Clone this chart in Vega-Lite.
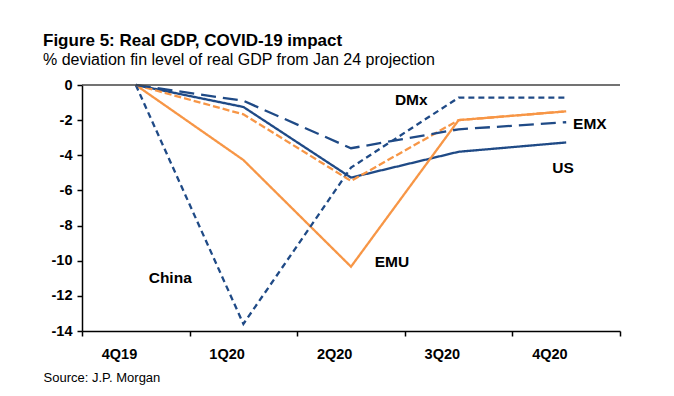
{
  "$schema": "https://vega.github.io/schema/vega-lite/v6.json",
  "width": 538,
  "height": 246,
  "autosize": {"type": "none"},
  "padding": {"left": 82, "top": 85, "right": 54, "bottom": 65},
  "background": "white",
  "config": {
    "view": {"stroke": null},
    "font": "Liberation Sans",
    "axis": {
      "labelOverlap": false,
      "labelFlush": false,
      "labelFont": "Liberation Sans",
      "labelFontSize": 14.5,
      "labelFontWeight": "bold",
      "labelColor": "black",
      "domainColor": "black",
      "domainWidth": 1.5,
      "tickColor": "black",
      "tickWidth": 1.5,
      "tickSize": 5,
      "grid": false
    },
    "axisY": {"labelOverlap": false, "labelPadding": 5, "labelFontWeight": "bold", "labelColor": "black", "labelFontSize": 14.5},
    "axisX": {"labelPadding": 11}
  },
  "title": {
    "text": "Figure 5: Real GDP, COVID-19 impact",
    "subtitle": "% deviation fin level of real GDP from Jan 24 projection",
    "anchor": "start",
    "frame": "group",
    "dx": -39,
    "offset": 8,
    "font": "Liberation Sans",
    "fontSize": 17,
    "fontWeight": "bold",
    "color": "black",
    "subtitleFont": "Liberation Sans",
    "subtitleFontSize": 16,
    "subtitleColor": "black",
    "subtitlePadding": 2
  },
  "datasets": {
    "series": [
      {"quarter": "4Q19", "t": 0, "series": "US", "value": 0},
      {"quarter": "1Q20", "t": 1, "series": "US", "value": -1.25},
      {"quarter": "2Q20", "t": 2, "series": "US", "value": -5.27},
      {"quarter": "3Q20", "t": 3, "series": "US", "value": -3.8},
      {"quarter": "4Q20", "t": 4, "series": "US", "value": -3.27},
      {"quarter": "4Q19", "t": 0, "series": "EMU", "value": 0},
      {"quarter": "1Q20", "t": 1, "series": "EMU", "value": -4.27},
      {"quarter": "2Q20", "t": 2, "series": "EMU", "value": -10.34},
      {"quarter": "3Q20", "t": 3, "series": "EMU", "value": -2.0},
      {"quarter": "4Q20", "t": 4, "series": "EMU", "value": -1.5},
      {"quarter": "4Q19", "t": 0, "series": "China", "value": 0},
      {"quarter": "1Q20", "t": 1, "series": "China", "value": -13.6},
      {"quarter": "2Q20", "t": 2, "series": "China", "value": -4.7},
      {"quarter": "3Q20", "t": 3, "series": "China", "value": -0.72},
      {"quarter": "4Q20", "t": 4, "series": "China", "value": -0.72},
      {"quarter": "4Q19", "t": 0, "series": "DMx", "value": 0},
      {"quarter": "1Q20", "t": 1, "series": "DMx", "value": -1.67},
      {"quarter": "2Q20", "t": 2, "series": "DMx", "value": -5.46},
      {"quarter": "3Q20", "t": 3, "series": "DMx", "value": -2.0},
      {"quarter": "4Q20", "t": 4, "series": "DMx", "value": -1.5},
      {"quarter": "4Q19", "t": 0, "series": "EMX", "value": 0},
      {"quarter": "1Q20", "t": 1, "series": "EMX", "value": -0.9},
      {"quarter": "2Q20", "t": 2, "series": "EMX", "value": -3.6},
      {"quarter": "3Q20", "t": 3, "series": "EMX", "value": -2.52},
      {"quarter": "4Q20", "t": 4, "series": "EMX", "value": -2.12}
    ],
    "labels": [
      {"label": "DMx", "t": 2.56, "value": -0.85},
      {"label": "EMX", "t": 4.22, "value": -2.2},
      {"label": "US", "t": 3.97, "value": -4.72},
      {"label": "EMU", "t": 2.38, "value": -10.1},
      {"label": "China", "t": 0.32, "value": -11.0}
    ],
    "zero": [{"value": 0}]
  },
  "layer": [
    {
      "data": {"name": "series"},
      "mark": {"type": "line", "strokeWidth": 2.3},
      "encoding": {
        "x": {
          "field": "t",
          "type": "quantitative",
          "scale": {"domain": [-0.5, 4.5], "nice": false, "zero": false},
          "axis": {
            "values": [-0.5, 0.5, 1.5, 2.5, 3.5, 4.5],
            "labelExpr": "['4Q19','1Q20','2Q20','3Q20','4Q20',''][round(datum.value + 0.5)]",
            "labelOffset": 37,
            "title": "Source: J.P. Morgan",
            "titleFont": "Liberation Sans",
            "titleFontSize": 13,
            "titleFontWeight": "normal",
            "titleColor": "black",
            "titleAnchor": "start",
            "titleAlign": "left",
            "titleX": -39,
            "titleY": 50,
            "titleBaseline": "alphabetic"
          }
        },
        "y": {
          "field": "value",
          "type": "quantitative",
          "scale": {"domain": [-14, 0], "nice": false},
          "axis": {
            "values": [-14, -12, -10, -8, -6, -4, -2, 0],
            "labelExpr": "datum.value == 0 ? '0' : '-' + abs(datum.value)",
            "labelOverlap": false,
            "labelFontWeight": "bold",
            "labelColor": "black",
            "labelFontSize": 14.5,
            "title": null
          }
        },
        "color": {
          "field": "series",
          "type": "nominal",
          "scale": {
            "domain": ["US", "EMU", "China", "DMx", "EMX"],
            "range": ["#1F4A86", "#F79646", "#1F4A86", "#F79646", "#1F4A86"]
          },
          "legend": null
        },
        "strokeDash": {
          "field": "series",
          "type": "nominal",
          "scale": {
            "domain": ["US", "EMU", "China", "DMx", "EMX"],
            "range": [[1, 0], [1, 0], [6, 4], [7, 3], [15, 7]]
          },
          "legend": null
        },
        "order": {"field": "t", "type": "quantitative"}
      }
    },
    {
      "data": {"name": "zero"},
      "mark": {"type": "rule", "color": "#444444", "strokeWidth": 1.5},
      "encoding": {
        "y": {
          "field": "value",
          "type": "quantitative",
          "axis": {
            "values": [-14, -12, -10, -8, -6, -4, -2, 0],
            "labelExpr": "datum.value == 0 ? '0' : '-' + abs(datum.value)",
            "labelOverlap": false,
            "labelFontWeight": "bold",
            "labelColor": "black",
            "labelFontSize": 14.5,
            "title": null
          }
        }
      }
    },
    {
      "data": {"name": "labels"},
      "mark": {
        "type": "text",
        "font": "Liberation Sans",
        "fontSize": 15.5,
        "fontWeight": "bold",
        "color": "black",
        "align": "center",
        "baseline": "middle"
      },
      "encoding": {
        "x": {"field": "t", "type": "quantitative"},
        "y": {
          "field": "value",
          "type": "quantitative",
          "axis": {
            "values": [-14, -12, -10, -8, -6, -4, -2, 0],
            "labelExpr": "datum.value == 0 ? '0' : '-' + abs(datum.value)",
            "labelOverlap": false,
            "labelFontWeight": "bold",
            "labelColor": "black",
            "labelFontSize": 14.5,
            "title": null
          }
        },
        "text": {"field": "label", "type": "nominal"}
      }
    }
  ]
}
